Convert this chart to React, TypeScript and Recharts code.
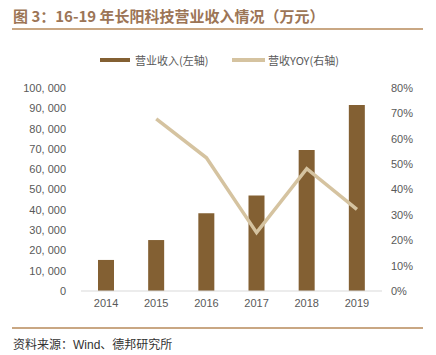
import React from 'react';
import { ComposedChart, Bar, Line, XAxis, YAxis } from 'recharts';

const years = ['2014', '2015', '2016', '2017', '2018', '2019'];
const revenue = [15300, 25100, 38300, 47100, 69500, 91600];
const yoy = [null, 67.8, 52.5, 23.0, 48.2, 32.2];
const leftTicks = [0, 10000, 20000, 30000, 40000, 50000, 60000, 70000, 80000, 90000, 100000];
const rightTicks = [0, 10, 20, 30, 40, 50, 60, 70, 80];

const BAR = '#836033';
const LINE = '#d5c3a0';
const CJK = '"Noto Sans CJK SC", "Noto Sans", sans-serif';
const tickStyle = { fontSize: 11, fill: '#595959', fontFamily: 'Arial, "Liberation Sans", sans-serif' };

const data = years.map((y, i) => ({ year: y, revenue: revenue[i], yoy: yoy[i] }));

function LegendBox() {
  return (
    <div style={{ position: 'absolute', left: 0, top: 52, width: 436, height: 16, fontFamily: CJK, fontSize: 11, color: '#595959' }}>
      <span style={{ position: 'absolute', left: 100, top: 6, width: 30, height: 4, background: BAR }} />
      <span style={{ position: 'absolute', left: 135, top: 0, lineHeight: '16px' }}>营业收入(左轴)</span>
      <span style={{ position: 'absolute', left: 232, top: 6, width: 33, height: 4, background: LINE }} />
      <span style={{ position: 'absolute', left: 268, top: 0, lineHeight: '16px' }}>营收YOY(右轴)</span>
    </div>
  );
}

export default function App() {
  return (
    <div style={{ position: 'absolute', left: 0, top: 0, width: 436, height: 355, background: '#fff' }}>
      <div style={{ position: 'absolute', left: 13, top: 5, fontFamily: CJK, fontSize: 15, fontWeight: 700, color: '#9c7556', whiteSpace: 'nowrap' }}>
        图 3：16-19 年长阳科技营业收入情况（万元）
      </div>
      <div style={{ position: 'absolute', left: 12, top: 28, width: 411, height: 2, background: '#c9a783' }} />
      <LegendBox />
      <ComposedChart width={436} height={320} data={data} margin={{ top: 88, right: 0, bottom: 9, left: 0 }}>
        <XAxis dataKey="year" height={20} tickLine={false} axisLine={{ stroke: '#d9d9d9' }} tick={tickStyle} />
        <YAxis yAxisId="left" width={81} domain={[0, 100000]} ticks={leftTicks} axisLine={false} tickLine={false}
          tickMargin={9} tick={tickStyle} tickFormatter={(v: number) => v.toLocaleString('en-US').replace(',', ', ')} />
        <YAxis yAxisId="right" orientation="right" width={54} domain={[0, 80]} ticks={rightTicks} axisLine={false}
          tickLine={false} tickMargin={3} tick={tickStyle} tickFormatter={(v: number) => `${v}%`} />
        <Bar yAxisId="left" dataKey="revenue" fill={BAR} barSize={16} isAnimationActive={false} />
        <Line yAxisId="right" dataKey="yoy" stroke={LINE} strokeWidth={3.5} dot={false} type="linear" isAnimationActive={false} />
      </ComposedChart>
      <div style={{ position: 'absolute', left: 12, top: 327, width: 411, height: 2, background: '#c9a783' }} />
      <div style={{ position: 'absolute', left: 13, top: 335, fontFamily: CJK, fontSize: 12, color: '#333', whiteSpace: 'nowrap' }}>
        资料来源：<span style={{ fontFamily: 'Arial, "Liberation Sans", sans-serif' }}>Wind</span>、德邦研究所
      </div>
    </div>
  );
}
